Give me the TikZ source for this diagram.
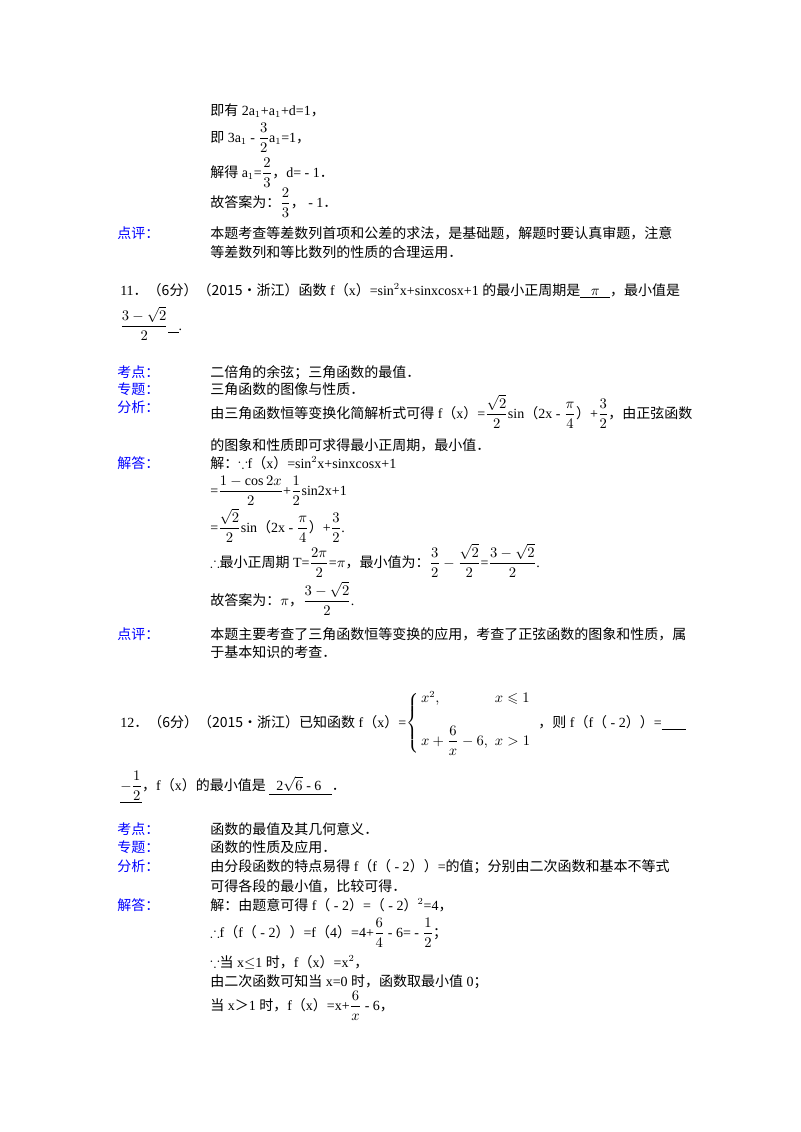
\documentclass[tikz,border=0pt]{standalone}
\usepackage{amsmath,amssymb}
\usepackage{fontspec}
\setmainfont{Liberation Serif}
\newfontfamily\cjkfont{Noto Sans CJK SC}
\newcommand\zh[1]{{\cjkfont #1}}
\begin{document}
\begin{tikzpicture}[x=0.75pt,y=-0.75pt,
  t/.style={anchor=base west,inner sep=0pt,font=\fontsize{10.5}{12}\selectfont},
  lbl/.style={t,text=blue}]
\useasboundingbox[fill=white] (0,0) rectangle (800,1132);
% previous problem tail
\node[t] (a1) at (210,115) {\zh{即有} 2a$_1$+a$_1$+d=1\zh{，}};
\node[t] (a2) at (210,142) {\zh{即} 3a$_1$ - $\dfrac{3}{2}$a$_1$=1\zh{，}};
\node[t] (a3) at (210,177) {\zh{解得} a$_1$=$\dfrac{2}{3}$\zh{，}d= - 1\zh{．}};
\node[t] (a4) at (210,207) {\zh{故答案为：}$\dfrac{2}{3}$\zh{，} - 1\zh{．}};
\node[lbl] (l0) at (117,238) {\zh{点评：}};
\node[t] (a5) at (210,238) {\zh{本题考查等差数列首项和公差的求法，是基础题，解题时要认真审题，注意}};
\node[t] (a6) at (210,257) {\zh{等差数列和等比数列的性质的合理运用．}};
% problem 11
\node[t] (p11) at (120,295) {11\zh{．（6分）（2015•浙江）函数} f\zh{（}x\zh{）}=sin$^2$x+sinxcosx+1 \zh{的最小正周期是}\underline{\ \ \ $\pi$\ \ \ }\zh{，最小值是}};
\node[t] (p11b) at (120,330) {$\dfrac{3-\sqrt2}{2}$\underline{\ \ \ }.};
\node[lbl] (k1) at (117,377) {\zh{考点：}};
\node[t] (k1t) at (210,377) {\zh{二倍角的余弦；三角函数的最值．}};
\node[lbl] (z1) at (117,394) {\zh{专题：}};
\node[t] (z1t) at (210,394) {\zh{三角函数的图像与性质．}};
\node[lbl] (f1) at (117,412) {\zh{分析：}};
\node[t] (f1t) at (210,418) {\zh{由三角函数恒等变换化简解析式可得} f\zh{（}x\zh{）}=$\dfrac{\sqrt2}{2}$sin\zh{（}2x - $\dfrac{\pi}{4}$\zh{）}+$\dfrac32$\zh{，由正弦函数}};
\node[t] (f1u) at (210,450) {\zh{的图象和性质即可求得最小正周期，最小值．}};
\node[lbl] (j1) at (117,468) {\zh{解答：}};
\node[t] (j1a) at (210,468) {\zh{解：}$\because$f\zh{（}x\zh{）}=sin$^2$x+sinxcosx+1};
\node[t] (j1b) at (210,495) {=$\dfrac{1-\cos 2x}{2}$+$\dfrac12$sin2x+1};
\node[t] (j1c) at (210,532) {=$\dfrac{\sqrt2}{2}$sin\zh{（}2x - $\dfrac{\pi}{4}$\zh{）}+$\dfrac32$.};
\node[t] (j1d) at (210,567) {$\therefore$\zh{最小正周期} T=$\dfrac{2\pi}{2}$=$\pi$\zh{，最小值为：}$\dfrac32-\dfrac{\sqrt2}{2}$=$\dfrac{3-\sqrt2}{2}$.};
\node[t] (j1e) at (210,605) {\zh{故答案为：}$\pi$\zh{，}$\dfrac{3-\sqrt2}{2}$.};
\node[lbl] (d1) at (117,639) {\zh{点评：}};
\node[t] (d1t) at (210,639) {\zh{本题主要考查了三角函数恒等变换的应用，考查了正弦函数的图象和性质，属}};
\node[t] (d1u) at (210,657) {\zh{于基本知识的考查．}};
% problem 12
\node[t] (p12) at (120,727) {12\zh{．（6分）（2015•浙江）已知函数} f\zh{（}x\zh{）}=$\left\{\begin{array}{@{\,}l@{\ \ }l} x^2, & x\leqslant 1\\[14pt] x+\dfrac6x-6, & x>1\end{array}\right.$\zh{，则} f\zh{（}f\zh{（} - 2\zh{））}=\underline{\hspace{18pt}}};
\node[t] (p12b) at (120,790) {\underline{$-\dfrac12$}\zh{，}f\zh{（}x\zh{）的最小值是} \underline{\ \ 2$\sqrt6$ - 6\ \ \ }\zh{．}};
\node[lbl] (k2) at (117,834) {\zh{考点：}};
\node[t] (k2t) at (210,834) {\zh{函数的最值及其几何意义．}};
\node[lbl] (z2) at (117,852) {\zh{专题：}};
\node[t] (z2t) at (210,852) {\zh{函数的性质及应用．}};
\node[lbl] (f2) at (117,871) {\zh{分析：}};
\node[t] (f2t) at (210,871) {\zh{由分段函数的特点易得} f\zh{（}f\zh{（} - 2\zh{））}=\zh{的值；分别由二次函数和基本不等式}};
\node[t] (f2u) at (210,891) {\zh{可得各段的最小值，比较可得．}};
\node[lbl] (j2) at (117,910) {\zh{解答：}};
\node[t] (j2a) at (210,910) {\zh{解：由题意可得} f\zh{（} - 2\zh{）}=\zh{（} - 2\zh{）}$^2$=4\zh{，}};
\node[t] (j2b) at (210,937) {$\therefore$f\zh{（}f\zh{（} - 2\zh{））}=f\zh{（}4\zh{）}=4+$\dfrac64$ - 6= - $\dfrac12$\zh{；}};
\node[t] (j2c) at (210,967) {$\because$\zh{当} x$\le$1 \zh{时，}f\zh{（}x\zh{）}=x$^2$\zh{，}};
\node[t] (j2d) at (210,986) {\zh{由二次函数可知当} x=0 \zh{时，函数取最小值} 0\zh{；}};
\node[t] (j2e) at (210,1010) {\zh{当} x\zh{＞}1 \zh{时，}f\zh{（}x\zh{）}=x+$\dfrac6x$ - 6\zh{，}};
\end{tikzpicture}
\end{document}
